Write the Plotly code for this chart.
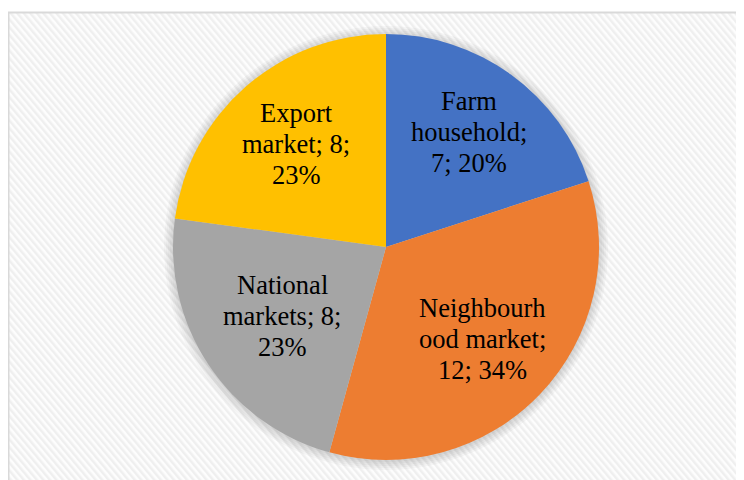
import base64
import math
import plotly.graph_objects as go

# ---- data ----
labels = ["Farm household", "Neighbourhood market", "National markets", "Export market"]
values = [7, 12, 8, 8]
label_templates = [
    "Farm<br>household;<br>{v}; {p}%",
    "Neighbourh<br>ood market;<br>{v}; {p}%",
    "National<br>markets; {v};<br>{p}%",
    "Export<br>market; {v};<br>{p}%",
]
colors = ["#4472C4", "#ED7D31", "#A5A5A5", "#FFC000"]
label_radius = [0.665, 0.628, 0.585, 0.642]  # label distance as fraction of radius

total = sum(values)
texts = [t.format(v=v, p=round(v / total * 100)) for t, v in zip(label_templates, values)]

W, H = 744, 480
OFF = 8  # page body margin
cx, cy, r = 386 - OFF, 247 - OFF, 213
LINE_H = 31
FONT = dict(family="Liberation Serif, Times New Roman, serif", size=26.5, color="#000000")

# striped background as svg pattern
svg = f'''<svg xmlns="http://www.w3.org/2000/svg" width="{W}" height="{H}" viewBox="0 0 {W} {H}">
<defs><pattern id="p" width="5" height="5" patternUnits="userSpaceOnUse" patternTransform="rotate(-40)">
<rect width="5" height="5" fill="#fdfdfd"/><rect width="2.5" height="5" fill="#efefef"/></pattern></defs>
<rect width="{W}" height="{H}" fill="url(#p)"/></svg>'''
src = "data:image/svg+xml;base64," + base64.b64encode(svg.encode()).decode()

fig = go.Figure(go.Pie(
    labels=labels,
    values=values,
    textinfo="none",
    sort=False,
    direction="clockwise",
    rotation=0,
    marker=dict(colors=colors, line=dict(width=0)),
    hoverinfo="label+value+percent",
    showlegend=False,
    domain=dict(x=[(cx - r) / W, (cx + r) / W], y=[1 - (cy + r) / H, 1 - (cy - r) / H]),
))

# labels at mid-angle of each slice, one annotation per line
annotations = []
cum = 0
for t, v, f in zip(texts, values, label_radius):
    mid = (cum + v / 2) / total * 2 * math.pi
    cum += v
    x = cx + f * r * math.sin(mid)
    y = cy - f * r * math.cos(mid)
    lines = t.split("<br>")
    n = len(lines)
    for i, ln in enumerate(lines):
        annotations.append(dict(text=ln, x=x / W, y=1 - y / H, xref="paper", yref="paper",
                                showarrow=False, xanchor="center", yanchor="middle",
                                yshift=((n - 1) / 2 - i) * LINE_H, font=FONT))

shapes = []
for d in [9, 7, 5, 3, 1]:
    rr = r + d
    shapes.append(dict(type="circle", xref="paper", yref="paper", layer="below",
                       x0=(cx - rr) / W, x1=(cx + rr) / W,
                       y0=1 - (cy + rr + 1) / H, y1=1 - (cy - rr + 1) / H,
                       fillcolor="rgba(0,0,0,0.03)", line=dict(width=0)))
shapes.append(dict(type="rect", xref="paper", yref="paper", layer="above",
                   x0=0.5 / W, x1=1.05, y0=-0.05, y1=1 - 4.5 / H,
                   line=dict(color="#d9d9d9", width=2), fillcolor="rgba(0,0,0,0)"))

fig.update_layout(
    width=W, height=H,
    margin=dict(l=0, r=0, t=0, b=0),
    paper_bgcolor="#ffffff",
    images=[dict(source=src, xref="paper", yref="paper", x=1 / W, y=1 - 5 / H,
                 sizex=1, sizey=1, sizing="stretch", xanchor="left", yanchor="top",
                 layer="below")],
    shapes=shapes,
    annotations=annotations,
)

fig.write_html("out.html")
